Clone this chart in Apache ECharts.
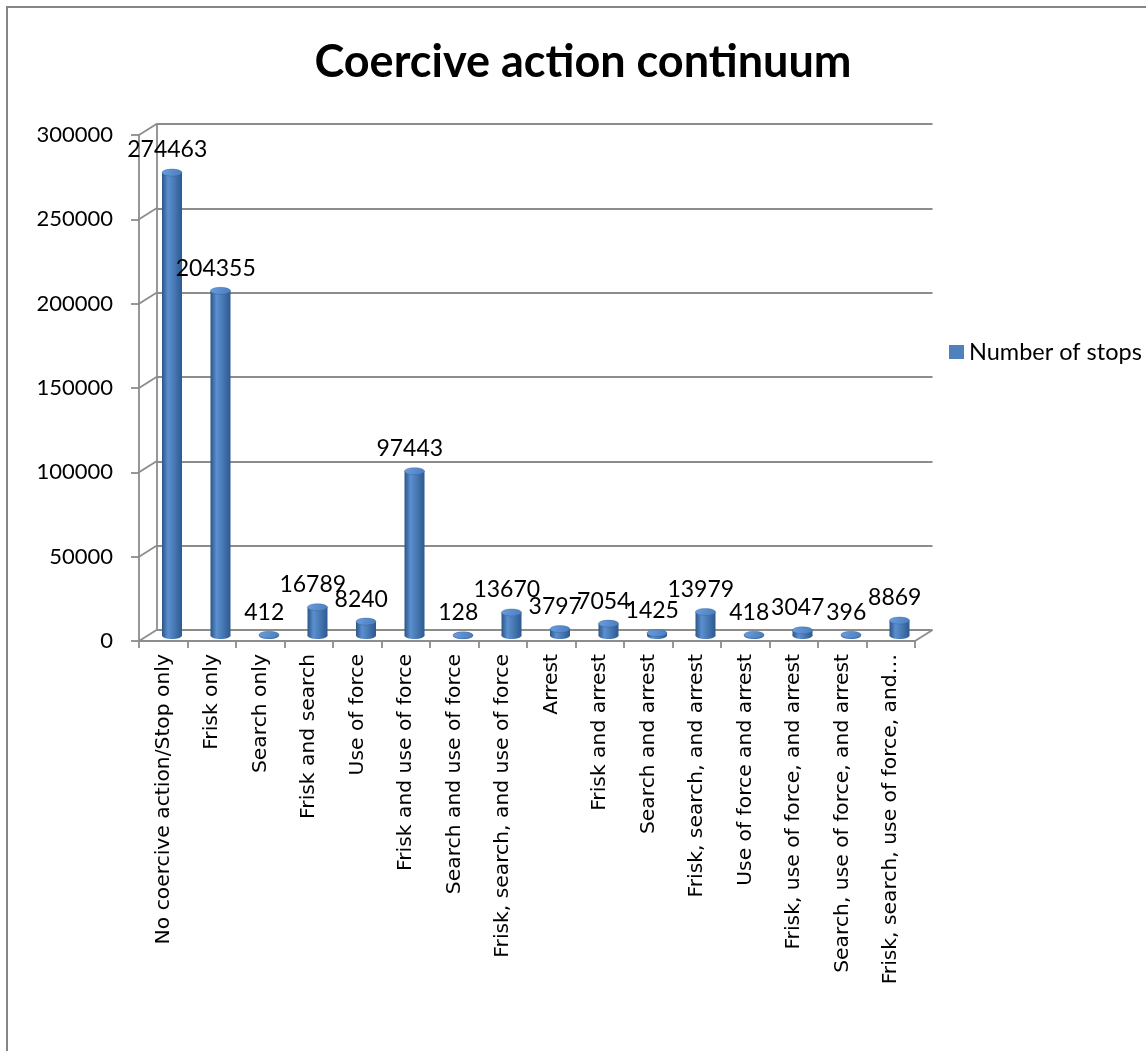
<!DOCTYPE html>
<html>
<head>
<meta charset="utf-8">
<script src="https://cdn.jsdelivr.net/npm/echarts@6/dist/echarts.min.js"></script>
<style>
html,body{margin:0;padding:0;background:#fff;}
#c{width:1146px;height:1051px;}
</style>
</head>
<body>
<div id="c"></div>
<script>
// ---- data ----
var categories = [
  "No coercive action/Stop only",
  "Frisk only",
  "Search only",
  "Frisk and search",
  "Use of force",
  "Frisk and use of force",
  "Search and use of force",
  "Frisk, search, and use of force",
  "Arrest",
  "Frisk and arrest",
  "Search and arrest",
  "Frisk, search, and arrest",
  "Use of force and arrest",
  "Frisk, use of force, and arrest",
  "Search, use of force, and arrest",
  "Frisk, search, use of force, and arrest"
];
var stops = [274463, 204355, 412, 16789, 8240, 97443, 128, 13670, 3797, 7054, 1425, 13979, 418, 3047, 396, 8869];
var yTicks = [0, 50000, 100000, 150000, 200000, 250000, 300000];
var seriesName = "Number of stops";
var titleText = "Coercive action continuum";

// ---- layout constants ----
var FRONT = {left: 139, top: 135, width: 776, height: 506};
var DX = 17.5, DY = -11;   // depth offset of the back wall
var GRID_COLOR = '#8c8c8c';

var chart = echarts.init(document.getElementById('c'), null, {renderer: 'canvas'});

var bodyGrad = new echarts.graphic.LinearGradient(0, 0, 1, 0, [
  {offset: 0, color: '#2b5686'},
  {offset: 0.3, color: '#5b8fd0'},
  {offset: 0.5, color: '#4f81bd'},
  {offset: 1, color: '#2c5a90'}
]);
var topGrad = new echarts.graphic.LinearGradient(0, 0, 1, 1, [
  {offset: 0, color: '#6b9ee0'},
  {offset: 1, color: '#4a7cbc'}
]);

function renderCylinder(params, api) {
  var i = api.value(0), v = api.value(1);
  var top = api.coord([i, v]);
  var bot = api.coord([i, 0]);
  var rx = 10, ry = 3.5;
  var cx = top[0];
  return {
    type: 'group',
    children: [
      {type: 'rect', shape: {x: cx - rx, y: top[1], width: rx * 2, height: Math.max(0, bot[1] - top[1])}, style: {fill: bodyGrad}},
      {type: 'ellipse', shape: {cx: cx, cy: bot[1], rx: rx, ry: ry}, style: {fill: bodyGrad}},
      {type: 'ellipse', shape: {cx: cx, cy: top[1], rx: rx, ry: ry}, style: {fill: topGrad, stroke: 'rgba(40,80,130,0.5)', lineWidth: 0.6}},
      {type: 'text', z2: 10, style: {text: String(v), x: cx - 4.75, y: top[1] - 22.5, align: 'center', verticalAlign: 'middle', fontFamily: 'Lato', fontSize: 23, fill: '#000'}}
    ]
  };
}

function renderSide(params, api) {
  var v = api.value(0);
  var band = api.size([1, 0])[0];
  var p = api.coord([0, v]);
  var x0 = p[0] - band / 2;
  var children = [
    {type: 'line', shape: {x1: x0, y1: p[1], x2: x0 + DX, y2: p[1] + DY}, style: {stroke: GRID_COLOR, lineWidth: 1.8}}
  ];
  if (v === 0) {
    var x1 = x0 + band * categories.length;
    children.push({type: 'line', shape: {x1: x1, y1: p[1], x2: x1 + DX, y2: p[1] + DY}, style: {stroke: GRID_COLOR, lineWidth: 1.8}});
  }
  return {type: 'group', children: children};
}

var option = {
  animation: false,
  backgroundColor: '#fff',
  title: {
    text: titleText,
    left: 578, top: 35, textAlign: 'center',
    textStyle: {fontFamily: 'Lato', fontWeight: 'bold', fontSize: 45, color: '#000'}
  },
  legend: {
    data: [{name: seriesName, icon: 'rect', itemStyle: {color: '#4f81bd'}}],
    left: 944, top: 335,
    itemWidth: 15, itemHeight: 14, itemGap: 7,
    textStyle: {fontFamily: 'Lato', fontSize: 23.5, color: '#000'}
  },
  graphic: [
    {type: 'rect', shape: {x: 7, y: 7, width: 1300, height: 1200}, style: {fill: 'none', stroke: '#868686', lineWidth: 2}, z: -10}
  ],
  grid: [
    {left: FRONT.left + DX, top: FRONT.top + DY, width: FRONT.width, height: FRONT.height},
    {left: FRONT.left, top: FRONT.top, width: FRONT.width, height: FRONT.height},
    {left: FRONT.left + DX / 2, top: FRONT.top + DY / 2, width: FRONT.width, height: FRONT.height}
  ],
  xAxis: [
    {gridIndex: 0, type: 'category', data: categories, show: false},
    {
      gridIndex: 1, type: 'category', data: categories,
      axisLine: {show: true, lineStyle: {color: GRID_COLOR, width: 1.8}},
      axisTick: {show: true, length: 7, alignWithLabel: false, lineStyle: {color: GRID_COLOR, width: 1.8}},
      axisLabel: {
        interval: 0, rotate: 90, margin: 13,
        fontFamily: 'DejaVu Sans', fontSize: 20.3, color: '#000',
        width: 334, overflow: 'truncate', ellipsis: '\u2026'
      },
      splitLine: {show: false}
    },
    {gridIndex: 2, type: 'category', data: categories, show: false}
  ],
  yAxis: [
    {
      gridIndex: 0, type: 'value', min: 0, max: 300000, interval: 50000,
      axisLine: {show: true, lineStyle: {color: GRID_COLOR, width: 1.8}},
      axisTick: {show: false}, axisLabel: {show: false},
      splitLine: {show: true, lineStyle: {color: GRID_COLOR, width: 1.8}}
    },
    {
      gridIndex: 1, type: 'value', min: 0, max: 300000, interval: 50000,
      axisLine: {show: true, lineStyle: {color: GRID_COLOR, width: 1.8}},
      axisTick: {show: true, length: 8, lineStyle: {color: GRID_COLOR, width: 1.8}},
      axisLabel: {margin: 26, fontFamily: 'Lato', fontSize: 22, color: '#000', formatter: function (v) { return String(v); }},
      splitLine: {show: false}
    },
    {gridIndex: 2, type: 'value', min: 0, max: 300000, interval: 50000, show: false, splitLine: {show: false}}
  ],
  series: [
    {
      type: 'custom', name: 'side', xAxisIndex: 1, yAxisIndex: 1,
      renderItem: renderSide,
      data: yTicks.map(function (t) { return [t]; }),
      encode: {y: 0}, silent: true, z: 1
    },
    {
      type: 'custom', name: seriesName, xAxisIndex: 2, yAxisIndex: 2,
      renderItem: renderCylinder,
      itemStyle: {color: '#4f81bd'},
      data: stops.map(function (v, i) { return [i, v]; }),
      encode: {x: 0, y: 1}, z: 5
    }
  ]
};
chart.setOption(option);
</script>
</body>
</html>
